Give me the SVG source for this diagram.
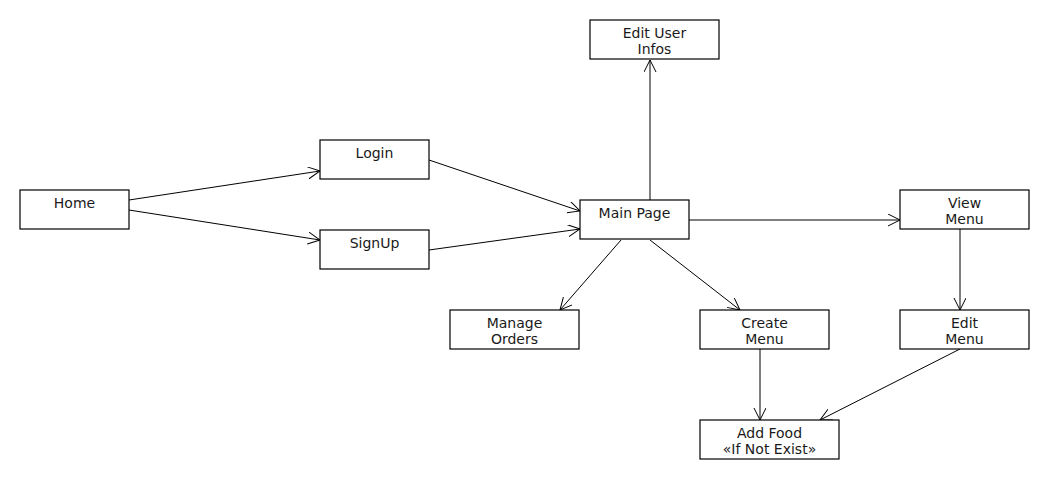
<svg xmlns="http://www.w3.org/2000/svg" width="1050" height="480" viewBox="0 0 1050 480">
<style>
.n rect{fill:#fff;stroke:#000;stroke-width:1.2}
.n text{font-family:"DejaVu Sans",sans-serif;font-size:14px;fill:#1a1a1a;text-anchor:middle}
.c line{stroke:#000;stroke-width:1;marker-end:url(#a)}
</style>
<defs>
<marker id="a" markerUnits="userSpaceOnUse" markerWidth="14" markerHeight="14" refX="12" refY="6" orient="auto">
<path d="M0,0 L12,6 L0,12" fill="none" stroke="#000" stroke-width="1"/>
</marker>
</defs>
<rect width="1050" height="480" fill="#fff"/>
<g class="c">
<line x1="129" y1="200" x2="320" y2="171"/>
<line x1="129" y1="210" x2="320" y2="240"/>
<line x1="429" y1="160" x2="580" y2="211"/>
<line x1="429" y1="250" x2="580" y2="229"/>
<line x1="650" y1="200" x2="650" y2="60"/>
<line x1="689" y1="220" x2="900" y2="220"/>
<line x1="621" y1="240" x2="560" y2="310"/>
<line x1="650" y1="240" x2="740" y2="310"/>
<line x1="960" y1="229" x2="960" y2="310"/>
<line x1="760" y1="349" x2="760" y2="420"/>
<line x1="960" y1="349" x2="820" y2="420"/>
</g>
<g id="home" class="n"><rect x="20" y="190" width="109" height="39"/><text x="74.5" y="208">Home</text></g>
<g id="login" class="n"><rect x="320" y="140" width="109" height="39"/><text x="374.5" y="158">Login</text></g>
<g id="signup" class="n"><rect x="320" y="230" width="109" height="39"/><text x="374.5" y="248">SignUp</text></g>
<g id="mainpage" class="n"><rect x="580" y="200" width="109" height="39"/><text x="634.5" y="218">Main Page</text></g>
<g id="edituser" class="n"><rect x="590" y="20" width="129" height="39"/><text x="654.5" y="38">Edit User</text><text x="654.5" y="54">Infos</text></g>
<g id="viewmenu" class="n"><rect x="900" y="190" width="129" height="39"/><text x="964.5" y="208">View</text><text x="964.5" y="224">Menu</text></g>
<g id="manageorders" class="n"><rect x="450" y="310" width="129" height="39"/><text x="514.5" y="328">Manage</text><text x="514.5" y="344">Orders</text></g>
<g id="createmenu" class="n"><rect x="700" y="310" width="129" height="39"/><text x="764.5" y="328">Create</text><text x="764.5" y="344">Menu</text></g>
<g id="editmenu" class="n"><rect x="900" y="310" width="129" height="39"/><text x="964.5" y="328">Edit</text><text x="964.5" y="344">Menu</text></g>
<g id="addfood" class="n"><rect x="700" y="420" width="139" height="39"/><text x="769.5" y="438">Add Food</text><text x="769.5" y="454">«If Not Exist»</text></g>
</svg>
